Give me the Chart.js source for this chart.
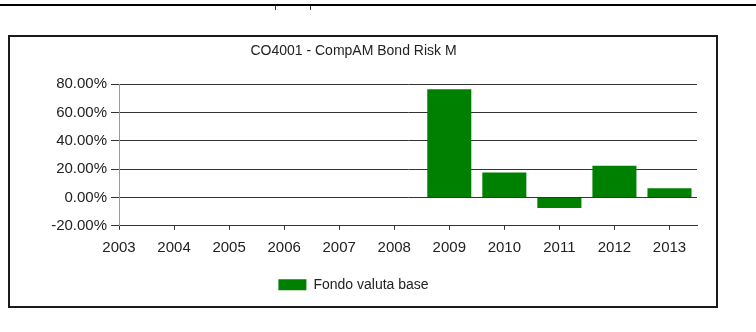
<!DOCTYPE html>
<html>
<head>
<meta charset="utf-8">
<script src="https://cdn.jsdelivr.net/npm/chart.js@4"></script>
<style>
  body { margin: 0; background: #fff; width: 756px; height: 332px; position: relative; overflow: hidden; }
  #riga { position: absolute; left: 0; top: 4px; width: 756px; height: 2px; background: #000; }
  .tacca { position: absolute; top: 6px; width: 1px; height: 4px; background: #333; }
  #riquadro { position: absolute; left: 8px; top: 35px; width: 706px; height: 269px; border: 2px solid #1a1a1a; }
  canvas { display: block; }
</style>
</head>
<body>
<div id="riga"></div>
<div class="tacca" style="left:275px"></div>
<div class="tacca" style="left:310px"></div>
<div id="riquadro"><canvas id="myChart" width="706" height="269"></canvas></div>
<script>
// anni e rendimenti
const anni = [2003, 2004, 2005, 2006, 2007, 2008, 2009, 2010, 2011, 2012, 2013];
const rendimenti = [null, null, null, null, null, null, 76.3, 17.6, -7.4, 22.4, 6.5];
const asseY = { min: -20, max: 80, passo: 20 };
const titolo = 'CO4001 - CompAM Bond Risk M';
const serie = 'Fondo valuta base';

let myChart;

function crearGrafica(id){
    let ctx = document.getElementById(id);
    let punti = [];
    for(var i = 0; i < anni.length; i++){
        punti.push({ x: anni[i], y: rendimenti[i] });
    }

    myChart = new Chart(ctx, {
        type: 'bar',
        data: {
            datasets: [{
                label: serie,
                data: punti,
                backgroundColor: '#008000',
                borderWidth: 0,
                barPercentage: 0.8,
                categoryPercentage: 1
            }]
        },
        options: {
            responsive: false,
            animation: false,
            devicePixelRatio: 1,
            layout: { padding: { left: 0, right: 19, top: 0, bottom: 4.2 } },
            plugins: {
                title: {
                    display: true,
                    text: titolo,
                    color: '#222',
                    font: { family: 'Liberation Sans', size: 14, weight: 'normal', lineHeight: 1.2 },
                    padding: { top: 6, bottom: 24.2 }
                },
                legend: {
                    position: 'bottom',
                    labels: {
                        boxWidth: 28,
                        boxHeight: 11,
                        padding: 10,
                        color: '#222',
                        font: { family: 'Liberation Sans', size: 14, lineHeight: 1.2 }
                    }
                },
                tooltip: { enabled: false }
            },
            scales: {
                x: {
                    type: 'linear',
                    offset: false,
                    min: anni[0],
                    max: anni[anni.length - 1] + 0.5,
                    afterFit: function(scale){ scale.height = 42; },
                    grid: { offset: false, drawOnChartArea: false, drawTicks: true, tickLength: 4, color: '#333' },
                    border: { color: '#333', width: 1 },
                    ticks: {
                        stepSize: 1,
                        includeBounds: false,
                        padding: 9,
                        color: '#222',
                        font: { family: 'Liberation Sans', size: 15 },
                        callback: function(v){ return Number.isInteger(v) ? String(v) : ''; }
                    }
                },
                y: {
                    min: asseY.min,
                    max: asseY.max,
                    afterFit: function(scale){ scale.width = 109; },
                    grid: { color: '#333', lineWidth: 1, tickLength: 8 },
                    border: { color: '#999', width: 1 },
                    ticks: {
                        stepSize: asseY.passo,
                        padding: 4,
                        color: '#222',
                        font: { family: 'Liberation Sans', size: 15 },
                        callback: function(v){ return v.toFixed(2) + '%'; }
                    }
                }
            }
        }
    });
}

crearGrafica('myChart');
</script>
</body>
</html>
